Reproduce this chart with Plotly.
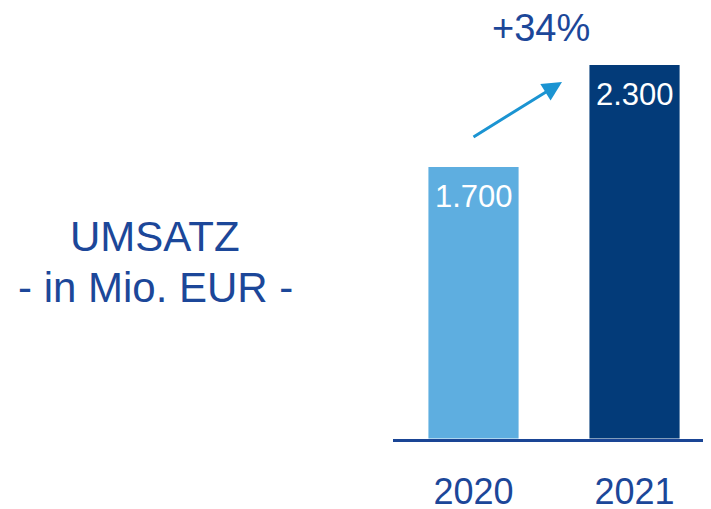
import plotly.graph_objects as go

years = ["2020", "2021"]
umsatz = [1700, 2300]
value_labels = ["1.700", "2.300"]
bar_colors = ["#5EAEE0", "#033B79"]
growth_label = "+34%"
title_lines = ["UMSATZ", "- in Mio. EUR -"]

# the page body has an 8px margin, so the figure is drawn 8px smaller
OFF = 8
W, H = 711 - OFF, 509 - OFF
TEXT_BLUE = "#1C4799"
FONT = "Liberation Sans, Arial, sans-serif"


def px(x):
    return (x - OFF) / W


def py(y):
    return 1 - (y - OFF) / H


fig = go.Figure()
fig.add_trace(go.Bar(
    x=years, y=umsatz, width=0.56,
    marker=dict(color=bar_colors, line=dict(width=0)),
    hoverinfo="skip",
))

# value labels inside bar tops
for i, (v, lab) in enumerate(zip(umsatz, value_labels)):
    fig.add_annotation(x=i, y=v, xref="x", yref="y", text=lab, showarrow=False,
                       xanchor="center", yanchor="top", yshift=-10,
                       font=dict(family=FONT, size=31, color="white"))

# title on left
fig.add_annotation(xref="paper", yref="paper", x=px(155), y=py(236),
                   xanchor="center", yanchor="middle",
                   text=title_lines[0], showarrow=False,
                   font=dict(family=FONT, size=42, color=TEXT_BLUE))
fig.add_annotation(xref="paper", yref="paper", x=px(155), y=py(287),
                   xanchor="center", yanchor="middle",
                   text=title_lines[1], showarrow=False,
                   font=dict(family=FONT, size=42, color=TEXT_BLUE))

# growth arrow
fig.add_annotation(xref="paper", yref="paper", x=px(562), y=py(82),
                   axref="pixel", ayref="pixel", ax=-90, ay=56,
                   text="", showarrow=True, arrowhead=2, arrowsize=1.3,
                   arrowwidth=3, arrowcolor="#1B94D2")
fig.add_annotation(xref="paper", yref="paper", x=px(541), y=py(28),
                   xanchor="center", yanchor="middle",
                   text=growth_label, showarrow=False,
                   font=dict(family=FONT, size=38, color=TEXT_BLUE))

bottom_px = 438.5
fig.update_layout(
    template="none",
    width=W, height=H,
    margin=dict(l=0, r=0, t=0, b=0, autoexpand=False),
    paper_bgcolor="white", plot_bgcolor="white",
    showlegend=False,
    xaxis=dict(type="category", domain=[px(393), 1], range=[-0.5, 1.475],
               automargin=False,
               showgrid=False, showline=True, linewidth=3, linecolor="#1A4595",
               ticks="", ticklabelstandoff=19,
               tickfont=dict(family=FONT, size=36, color=TEXT_BLUE)),
    yaxis=dict(domain=[py(bottom_px), 1], range=[103, 103 + (bottom_px - OFF) / 0.17],
               automargin=False,
               showgrid=False, zeroline=False, showticklabels=False,
               showline=False, ticks=""),
)

fig.write_html("out.html")
